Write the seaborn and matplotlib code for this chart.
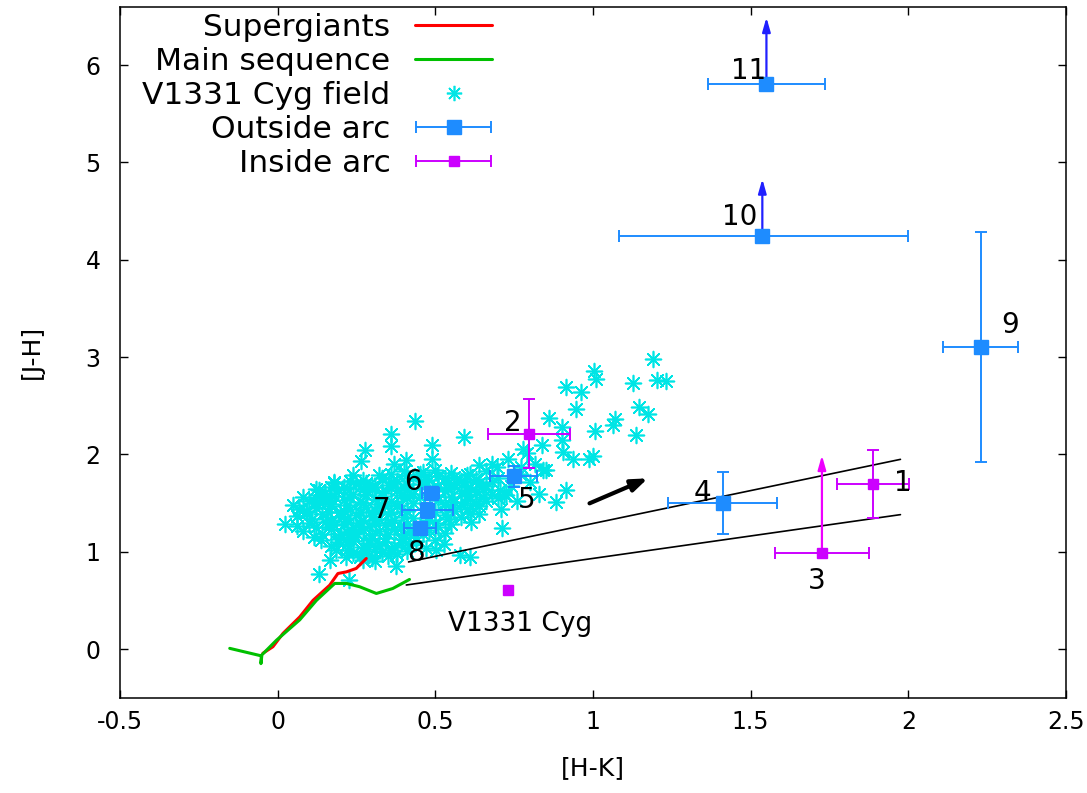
import numpy as np
import pandas as pd
import matplotlib
matplotlib.use("Agg")
import matplotlib.pyplot as plt
from matplotlib.lines import Line2D
from matplotlib.legend_handler import HandlerErrorbar
import seaborn as sns

# ---------------- data ----------------
# Supergiant intrinsic colour locus
sg_hk = [-0.047, -0.015, 0.017, 0.070, 0.112, 0.165, 0.191, 0.218, 0.249, 0.281]
sg_jh = [-0.044, 0.024, 0.161, 0.330, 0.500, 0.656, 0.776, 0.793, 0.828, 0.930]
# Main-sequence intrinsic colour locus
ms_hk = [-0.152, -0.052, -0.053, -0.050, -0.004, 0.070, 0.123, 0.181, 0.218, 0.260, 0.313, 0.365, 0.418]
ms_jh = [0.007, -0.070, -0.150, -0.060, 0.090, 0.300, 0.500, 0.674, 0.674, 0.640, 0.571, 0.622, 0.715]

# V1331 Cyg field stars
field_hk = [1.189, 1.002, 1.011, 1.126, 1.203, 1.231, 0.913, 0.963, 0.946, 1.145, 1.174, 0.862,
            1.071, 1.065, 0.902, 1.005, 1.137, 0.902, 0.837, 0.906, 0.938, 0.986, 0.999, 0.852,
            0.915, 0.778, 0.815, 0.772, 0.640, 0.697, 0.719, 0.830, 0.883, 0.590, 0.434, 0.360,
            0.360, 0.277, 0.265, 0.491, 0.491, 0.406, 0.368, 0.321, 0.178, 0.131, 0.022, 0.068,
            0.093, 0.131, 0.165, 0.115, 0.139, 0.170, 0.197, 0.131, 0.226, 0.376, 0.186, 0.218,
            0.165, 0.239, 0.709, 0.712, 0.725, 0.640, 0.614, 0.577, 0.609, 0.529, 0.503, 0.704,
            0.40, 0.45, 0.50, 0.55, 0.60, 0.66,
            0.27, 0.33, 0.38, 0.43, 0.48, 0.53, 0.58, 0.63, 0.68,
            0.21, 0.25, 0.30, 0.35, 0.40, 0.45, 0.51, 0.56, 0.61, 0.66,
            0.15, 0.19, 0.24, 0.28, 0.33, 0.38, 0.43, 0.53, 0.58, 0.63, 0.68,
            0.10, 0.15, 0.21, 0.26, 0.31, 0.36, 0.41, 0.51, 0.56, 0.61, 0.66,
            0.12, 0.17, 0.23, 0.28, 0.33, 0.38, 0.55, 0.60, 0.64,
            0.06, 0.14, 0.20, 0.25, 0.30, 0.35, 0.40, 0.53, 0.58,
            0.10, 0.15, 0.21, 0.26, 0.31, 0.36, 0.41, 0.50, 0.55,
            0.08, 0.17, 0.22, 0.27, 0.32, 0.37, 0.42, 0.48, 0.53,
            0.19, 0.24, 0.29, 0.34, 0.39, 0.44, 0.50,
            0.17, 0.22, 0.27, 0.32, 0.37, 0.42, 0.47,
            0.24, 0.29, 0.33, 0.38,
            0.27, 0.31,
            0.68, 0.73, 0.77, 0.70, 0.80, 0.74, 0.79, 0.84, 0.76,
            0.24, 0.36, 0.41, 0.46, 0.51, 0.56, 0.61,
            0.18, 0.23, 0.28, 0.36, 0.41, 0.46, 0.54, 0.59, 0.64,
            0.12, 0.17, 0.22, 0.27, 0.31, 0.36, 0.41, 0.49, 0.54, 0.60, 0.65,
            0.08, 0.13, 0.18, 0.23, 0.28, 0.33, 0.39, 0.45, 0.50, 0.55, 0.60, 0.65, 0.70,
            0.05, 0.12, 0.17, 0.22, 0.27, 0.32, 0.38, 0.43, 0.53, 0.58, 0.63,
            0.09, 0.16, 0.21, 0.26, 0.31, 0.36, 0.41, 0.50, 0.56, 0.61,
            0.11, 0.17, 0.22, 0.27, 0.32, 0.37, 0.43, 0.48, 0.54,
            0.06, 0.12, 0.18, 0.24, 0.29, 0.34, 0.39, 0.45, 0.51,
            0.14, 0.20, 0.25, 0.30, 0.35, 0.40, 0.46,
            0.19, 0.24, 0.29, 0.34, 0.39, 0.44,
            0.22, 0.27, 0.31, 0.36, 0.41,
            0.26, 0.30, 0.35]
field_jh = [2.985, 2.856, 2.776, 2.738, 2.766, 2.749, 2.697, 2.641, 2.469, 2.487, 2.413, 2.376,
            2.359, 2.297, 2.277, 2.241, 2.195, 2.144, 2.092, 2.024, 1.949, 1.956, 1.979, 1.836,
            1.638, 2.058, 1.905, 1.870, 1.887, 1.870, 1.597, 1.597, 1.511, 2.182, 2.342, 2.212,
            2.087, 2.041, 1.933, 2.092, 1.949, 1.938, 1.905, 1.785, 1.706, 1.631, 1.289, 1.443,
            1.408, 1.511, 1.556, 1.152, 1.118, 1.306, 1.408, 0.769, 0.708, 0.851, 1.015, 0.947,
            0.913, 1.187, 1.443, 1.246, 1.579, 1.392, 1.306, 0.964, 0.947, 1.084, 1.015, 1.631,
            1.83, 1.80, 1.84, 1.81, 1.79, 1.83,
            1.74, 1.76, 1.73, 1.77, 1.74, 1.76, 1.73, 1.75, 1.72,
            1.67, 1.70, 1.66, 1.69, 1.67, 1.70, 1.66, 1.69, 1.67, 1.68,
            1.60, 1.63, 1.59, 1.62, 1.60, 1.63, 1.59, 1.62, 1.60, 1.61, 1.59,
            1.52, 1.55, 1.53, 1.51, 1.54, 1.52, 1.55, 1.53, 1.51, 1.54, 1.52,
            1.45, 1.47, 1.44, 1.46, 1.45, 1.47, 1.46, 1.44, 1.47,
            1.37, 1.39, 1.36, 1.38, 1.37, 1.39, 1.36, 1.38, 1.36,
            1.29, 1.31, 1.28, 1.30, 1.29, 1.31, 1.28, 1.30, 1.28,
            1.21, 1.23, 1.20, 1.22, 1.21, 1.23, 1.20, 1.22, 1.19,
            1.13, 1.15, 1.12, 1.14, 1.13, 1.15, 1.12,
            1.06, 1.08, 1.05, 1.07, 1.05, 1.07, 1.04,
            0.99, 0.97, 1.00, 0.98,
            0.92, 0.90,
            1.90, 1.95, 1.80, 1.76, 1.72, 1.68, 2.01, 1.84, 1.52,
            1.79, 1.80, 1.79, 1.82, 1.78, 1.77, 1.80,
            1.72, 1.73, 1.71, 1.72, 1.70, 1.73, 1.71, 1.72, 1.71,
            1.64, 1.66, 1.65, 1.64, 1.66, 1.65, 1.63, 1.65, 1.64, 1.63, 1.64,
            1.56, 1.58, 1.57, 1.56, 1.58, 1.57, 1.58, 1.56, 1.58, 1.56, 1.57, 1.56, 1.55,
            1.48, 1.50, 1.49, 1.48, 1.50, 1.49, 1.48, 1.50, 1.49, 1.48, 1.50,
            1.42, 1.41, 1.42, 1.41, 1.43, 1.41, 1.42, 1.41, 1.42, 1.40,
            1.34, 1.33, 1.35, 1.33, 1.34, 1.33, 1.35, 1.33, 1.34,
            1.26, 1.25, 1.27, 1.25, 1.26, 1.27, 1.25, 1.27, 1.25,
            1.18, 1.17, 1.19, 1.17, 1.18, 1.17, 1.18,
            1.10, 1.11, 1.09, 1.10, 1.09, 1.11,
            1.02, 1.01, 1.03, 1.02, 1.01,
            0.95, 0.94, 0.96]

# Sources outside the arc (ids 4-11)
out_id = ["4", "5", "6", "7", "8", "9", "10", "11"]
out_hk = [1.411, 0.748, 0.485, 0.475, 0.452, 2.230, 1.537, 1.550]
out_jh = [1.500, 1.774, 1.600, 1.425, 1.240, 3.100, 4.240, 5.810]
out_hk_lo = [0.174, 0.074, 0.027, 0.080, 0.050, 0.119, 0.453, 0.185]
out_hk_hi = [0.174, 0.074, 0.027, 0.080, 0.050, 0.119, 0.463, 0.185]
out_jh_err = [0.32, 0.11, 0.05, 0.08, 0.05, 1.18, 0.0, 0.0]
# lower limits in [J-H]: arrow tips
lim_id = ["10", "11"]
lim_hk = [1.537, 1.550]
lim_jh_from = [4.240, 5.810]
lim_jh_to = [4.83, 6.49]

# Sources inside the arc (ids 1-3)
in_id = ["1", "2", "3"]
in_hk = [1.889, 0.797, 1.726]
in_jh = [1.700, 2.212, 0.988]
in_hk_err = [0.114, 0.131, 0.148]
in_jh_err = [0.35, 0.354, 0.0]
in_lim_hk = [1.726]
in_lim_from = [0.988]
in_lim_to = [1.99]

# V1331 Cyg itself
star_hk = [0.732]
star_jh = [0.605]

# label positions (text centres)
lab_txt = ["11", "10", "9", "1", "3", "4", "2", "5", "6", "7", "8"]
lab_hk = [1.493, 1.464, 2.323, 1.981, 1.708, 1.347, 0.745, 0.789, 0.428, 0.330, 0.437]
lab_jh = [5.94, 4.44, 3.33, 1.71, 0.70, 1.60, 2.32, 1.53, 1.72, 1.43, 0.985]

# reddening vectors
red_hk = [[0.415, 1.975], [0.408, 1.975]]
red_jh = [[0.895, 1.949], [0.658, 1.381]]
vec_hk = [0.989, 1.174]
vec_jh = [1.497, 1.754]

x_ticks = [-0.5, 0, 0.5, 1, 1.5, 2, 2.5]
x_ticklabels = ["-0.5", "0", "0.5", "1", "1.5", "2", "2.5"]
y_ticks = [0, 1, 2, 3, 4, 5, 6]

# ---------------- style ----------------
sns.set_style("ticks")
plt.rcParams["font.family"] = ["DejaVu Sans"]
plt.rcParams["axes.unicode_minus"] = False
plt.rcParams["text.color"] = "black"
plt.rcParams["axes.labelcolor"] = "black"
plt.rcParams["xtick.color"] = "black"
plt.rcParams["ytick.color"] = "black"

RED = "#ff0000"
GREEN = "#00c000"
CYAN = "#00e5e5"
BLUE = "#1e8cff"
DBLUE = "#2020ff"
MAG = "#cc00ff"

fig = plt.figure(figsize=(10.87, 7.93), dpi=100)
ax = fig.add_axes([120 / 1087, 1 - 697.7 / 793, 946 / 1087, 691 / 793])

# field stars
field = pd.DataFrame({"hk": field_hk, "jh": field_jh})
sns.scatterplot(data=field, x="hk", y="jh", marker=(8, 2, 0), s=130,
                color=CYAN, edgecolor=CYAN, linewidth=1.2, ax=ax, zorder=2, legend=False)

# loci
sns.lineplot(x=sg_hk, y=sg_jh, sort=False, estimator=None, color=RED, lw=2.2, ax=ax, zorder=3)
sns.lineplot(x=ms_hk, y=ms_jh, sort=False, estimator=None, color=GREEN, lw=2.2, ax=ax, zorder=3)

# reddening lines
for xs, ys in zip(red_hk, red_jh):
    sns.lineplot(x=xs, y=ys, sort=False, estimator=None, color="black", lw=1.2, ax=ax, zorder=3)
ax.annotate("", xy=(vec_hk[1], vec_jh[1]), xytext=(vec_hk[0], vec_jh[0]),
            arrowprops=dict(arrowstyle="-|>,head_length=0.8,head_width=0.3", color="black",
                            lw=3, shrinkA=0, shrinkB=0, mutation_scale=12), zorder=4)

# outside arc
ax.errorbar(out_hk, out_jh, xerr=[out_hk_lo, out_hk_hi], yerr=out_jh_err, fmt="s",
            color=BLUE, ms=10, elinewidth=1.4, capsize=4.5, capthick=1.4, zorder=5)
for x0, y0, y1 in zip(lim_hk, lim_jh_from, lim_jh_to):
    ax.annotate("", xy=(x0, y1), xytext=(x0, y0),
                arrowprops=dict(arrowstyle="-|>,head_length=0.7,head_width=0.2", color=DBLUE,
                                lw=1.6, shrinkA=0, shrinkB=0, mutation_scale=12), zorder=4)

# inside arc
ax.errorbar(in_hk, in_jh, xerr=in_hk_err, yerr=in_jh_err, fmt="s",
            color=MAG, ms=6.5, elinewidth=1.4, capsize=4.5, capthick=1.4, zorder=5)
for x0, y0, y1 in zip(in_lim_hk, in_lim_from, in_lim_to):
    ax.annotate("", xy=(x0, y1), xytext=(x0, y0),
                arrowprops=dict(arrowstyle="-|>,head_length=0.7,head_width=0.2", color="#ee00ff",
                                lw=1.6, shrinkA=0, shrinkB=0, mutation_scale=12), zorder=4)
ax.plot(star_hk, star_jh, "s", color=MAG, ms=6.5, zorder=5)

# labels
for t, x0, y0 in zip(lab_txt, lab_hk, lab_jh):
    ax.text(x0, y0, t, fontsize=20, ha="center", va="center", color="black", zorder=6)
ax.text(0.770, 0.256, "V1331 Cyg", fontsize=19, ha="center", va="center", color="black")

# axes
ax.set_xlim(-0.5, 2.5)
ax.set_ylim(-0.5, 6.6)
ax.set_xticks(x_ticks)
ax.set_xticklabels(x_ticklabels)
ax.set_yticks(y_ticks)
ax.tick_params(direction="in", length=6, width=1, top=True, right=True,
               labelsize=17, colors="black")
ax.tick_params(axis="x", pad=9)
ax.tick_params(axis="y", pad=14)
for s in ax.spines.values():
    s.set_visible(True)
    s.set_linewidth(1.1)
    s.set_color("black")
ax.set_xlabel("[H-K]", fontsize=18, labelpad=16)
ax.set_ylabel("[J-H]", fontsize=18, labelpad=30)

# legend
LFS = 22.5
HL = 2.45
h_sg = Line2D([], [], color=RED, lw=2.2)
h_ms = Line2D([], [], color=GREEN, lw=2.2)
h_fd = Line2D([], [], ls="none", marker=(8, 2, 0), ms=11, color=CYAN, mew=1.2)
h_out = ax.errorbar([np.nan], [np.nan], xerr=[1], fmt="s", color=BLUE, ms=10,
                    elinewidth=1.4, capsize=4.5, capthick=1.4)
h_in = ax.errorbar([np.nan], [np.nan], xerr=[1], fmt="s", color=MAG, ms=6.5,
                   elinewidth=1.4, capsize=4.5, capthick=1.4)
leg = ax.legend([h_sg, h_ms, h_fd, h_out, h_in],
                ["Supergiants", "Main sequence", "V1331 Cyg field", "Outside arc", "Inside arc"],
                markerfirst=False, frameon=False, fontsize=LFS, handlelength=HL,
                handletextpad=0.8, labelspacing=0.16, borderpad=0, borderaxespad=0,
                loc="upper right", bbox_to_anchor=(492 / 1087, 1 - 13 / 793),
                bbox_transform=fig.transFigure,
                handler_map={type(h_out): HandlerErrorbar(xerr_size=HL / 2 - 0.02)})

fig.savefig("out.png", dpi=100)
